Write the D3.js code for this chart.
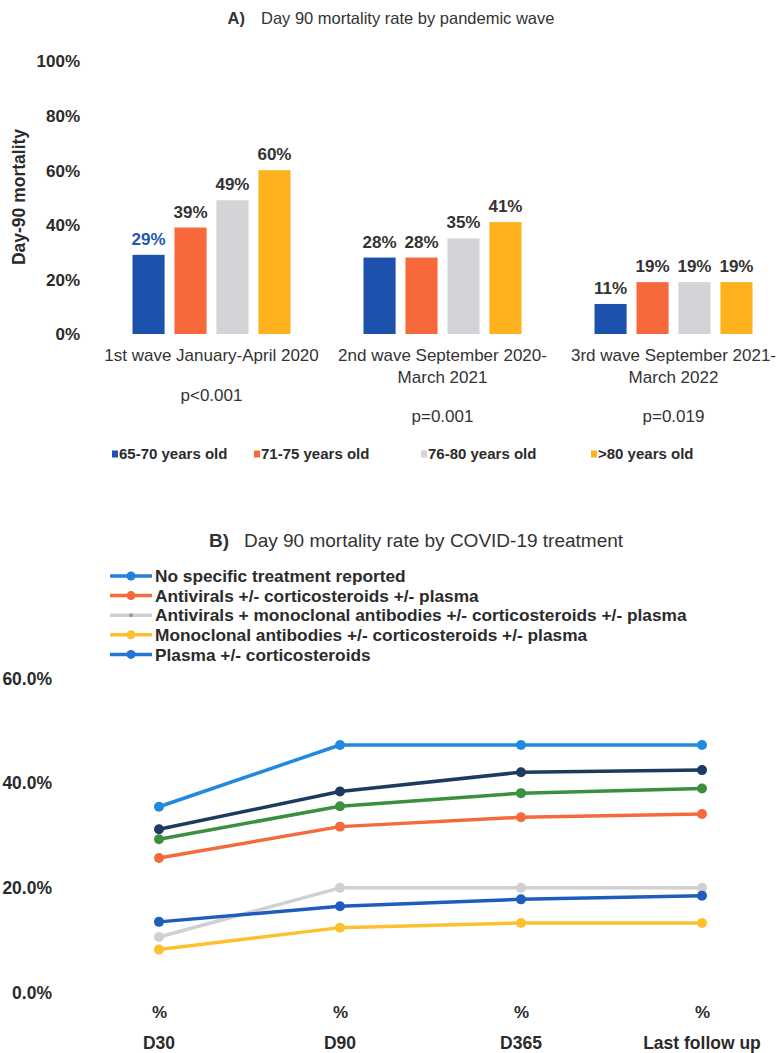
<!DOCTYPE html>
<html>
<head>
<meta charset="utf-8">
<script src="https://cdn.jsdelivr.net/npm/d3@7"></script>
<style>
  body { margin: 0; background: #fff; }
  svg { display: block; font-family: "Liberation Sans", Arial, sans-serif; }
  .tick text { fill: #2b2b2b; font-weight: bold; }
</style>
</head>
<body>
<div id="chart-area"></div>
<script>
// ---- data panel A ----
var waveLabels = [
	["1st wave January-April 2020"],
	["2nd wave September 2020-", "March 2021"],
	["3rd wave September 2021-", "March 2022"]
];
var pValues = ["p<0.001", "p=0.001", "p=0.019"];
var ageGroups = ["65-70 years old", "71-75 years old", "76-80 years old", ">80 years old"];
var age6570 = [29, 28, 11];
var age7175 = [39, 28, 19];
var age7680 = [49, 35, 19];
var age80 = [60, 41, 19];
var barTicks = [0, 20, 40, 60, 80, 100];

// ---- data panel B ----
var timepoints = ["D30", "D90", "D365", "Last follow up"];
var treatments = [
	"No specific treatment reported",
	"Antivirals +/- corticosteroids +/- plasma",
	"Antivirals + monoclonal antibodies +/- corticosteroids +/- plasma",
	"Monoclonal antibodies +/- corticosteroids +/- plasma",
	"Plasma +/- corticosteroids"
];
var noTreatment = [35.4, 47.2, 47.2, 47.2];
var antivirals = [25.6, 31.6, 33.4, 34.0];
var antiviralsMab = [10.5, 19.9, 19.9, 19.9];
var mabOnly = [8.1, 12.3, 13.2, 13.2];
var plasma = [13.4, 16.4, 17.7, 18.4];
// two extra lines drawn in the figure with no legend entry
var unlabelledNavy = [31.1, 38.3, 42.0, 42.4];
var unlabelledGreen = [29.2, 35.5, 38.0, 38.9];
var lineTicks = [0, 20, 40, 60];

var ageColors = ["#1d51ae", "#f7693a", "#d4d4d8", "#ffb21e"];

var svg = d3.select("#chart-area")
	.append("svg")
		.attr("width", 779)
		.attr("height", 1053);

/************ A) bar chart ************/
var ageData = [age6570, age7175, age7680, age80];
var bars = [];
waveLabels.forEach(function(w, i) {
	ageGroups.forEach(function(a, j) {
		bars.push({ wave: i, age: a, ai: j, value: ageData[j][i] });
	});
});

var x0 = d3.scaleBand()
	.domain(d3.range(waveLabels.length))
	.range([96, 789])
	.paddingInner(0.316)
	.paddingOuter(0.158);

var x1 = d3.scaleBand()
	.domain(ageGroups)
	.range([0, x0.bandwidth()])
	.paddingInner(0.235);

var yA = d3.scaleLinear()
	.domain([0, 100])
	.range([334, 61]);

var titleA = svg.append("text")
	.attr("x", 391)
	.attr("y", 24)
	.attr("text-anchor", "middle")
	.attr("font-size", "16.5px")
	.attr("fill", "#333");
titleA.append("tspan").attr("font-weight", "bold").text("A)");
titleA.append("tspan").attr("dx", 16).text("Day 90 mortality rate by pandemic wave");

var yAxisA = svg.append("g")
	.attr("transform", "translate(80,0)")
	.call(d3.axisLeft(yA).tickValues(barTicks).tickSize(0).tickPadding(0)
		.tickFormat(function(d) { return d + "%"; }));
yAxisA.select(".domain").remove();
yAxisA.selectAll("text").attr("font-size", "17px").attr("dy", "0.35em");

svg.append("text")
	.attr("transform", "translate(25,197) rotate(-90)")
	.attr("text-anchor", "middle")
	.attr("font-size", "17.5px")
	.attr("font-weight", "bold")
	.attr("fill", "#2b2b2b")
	.text("Day-90 mortality");

svg.selectAll("rect.bar")
	.data(bars)
	.enter()
	.append("rect")
		.attr("class", "bar")
		.attr("x", function(d) { return x0(d.wave) + x1(d.age); })
		.attr("y", function(d) { return yA(d.value); })
		.attr("width", x1.bandwidth())
		.attr("height", function(d) { return yA(0) - yA(d.value); })
		.attr("fill", function(d) { return ageColors[d.ai]; });

svg.selectAll("text.barlabel")
	.data(bars)
	.enter()
	.append("text")
		.attr("class", "barlabel")
		.attr("x", function(d) { return x0(d.wave) + x1(d.age) + x1.bandwidth() / 2; })
		.attr("y", function(d) { return yA(d.value) - 10; })
		.attr("text-anchor", "middle")
		.attr("font-size", "17px")
		.attr("font-weight", "bold")
		.attr("fill", function(d) { return (d.wave === 0 && d.ai === 0) ? "#2256b8" : "#333"; })
		.text(function(d) { return d.value + "%"; });

var waveG = svg.selectAll("g.wave")
	.data(waveLabels)
	.enter()
	.append("g")
		.attr("class", "wave")
		.attr("transform", function(d, i) { return "translate(" + (x0(i) + x0.bandwidth() / 2) + ",0)"; });

waveG.each(function(lines, i) {
	var g = d3.select(this);
	lines.forEach(function(l, k) {
		g.append("text")
			.attr("y", 361 + k * 22)
			.attr("text-anchor", "middle")
			.attr("font-size", "17px")
			.attr("fill", "#333")
			.text(l);
	});
	g.append("text")
		.attr("y", lines.length === 1 ? 401 : 422)
		.attr("text-anchor", "middle")
		.attr("font-size", "17px")
		.attr("fill", "#333")
		.text(pValues[i]);
});

// legend A
var legA = [112, 254, 421, 591];
var legendA = svg.selectAll("g.legA")
	.data(ageGroups)
	.enter()
	.append("g")
		.attr("class", "legA")
		.attr("transform", function(d, i) { return "translate(" + legA[i] + ",454)"; });
legendA.append("rect")
	.attr("x", 0).attr("y", -3.5)
	.attr("width", 6).attr("height", 7)
	.attr("fill", function(d, i) { return ageColors[i]; });
legendA.append("text")
	.attr("x", 7)
	.attr("dy", "0.36em")
	.attr("font-size", "15px")
	.attr("font-weight", "bold")
	.attr("fill", "#2b2b2b")
	.text(function(d) { return d; });

/************ B) line chart ************/
var series = [
	{ name: "unlabelledNavy", values: unlabelledNavy, color: "#1d3a5f" },
	{ name: "unlabelledGreen", values: unlabelledGreen, color: "#3b8f40" },
	{ name: treatments[1], values: antivirals, color: "#f46a3c" },
	{ name: treatments[2], values: antiviralsMab, color: "#d0d0d2" },
	{ name: treatments[3], values: mabOnly, color: "#ffc02e" },
	{ name: treatments[4], values: plasma, color: "#1f5cc0" },
	{ name: treatments[0], values: noTreatment, color: "#218ae0" }
];
var legendColors = ["#2380dc", "#f46a3c", "#d0d0d2", "#ffc02e", "#2176d4"];

var xB = d3.scalePoint()
	.domain(timepoints)
	.range([159, 702]);

var yB = d3.scaleLinear()
	.domain([0, 60])
	.range([992, 678]);

var titleB = svg.append("text")
	.attr("x", 416)
	.attr("y", 547)
	.attr("text-anchor", "middle")
	.attr("font-size", "19px")
	.attr("fill", "#333");
titleB.append("tspan").attr("font-weight", "bold").text("B)");
titleB.append("tspan").attr("dx", 15).text("Day 90 mortality rate by COVID-19 treatment");

var legendB = svg.selectAll("g.legB")
	.data(treatments)
	.enter()
	.append("g")
		.attr("class", "legB")
		.attr("transform", function(d, i) { return "translate(110," + (576 + i * 19.6) + ")"; });
legendB.append("line")
	.attr("x1", 0).attr("x2", 42)
	.attr("stroke", function(d, i) { return legendColors[i]; })
	.attr("stroke-width", 3.5);
legendB.append("circle")
	.attr("cx", 21)
	.attr("r", function(d, i) { return i === 2 ? 2 : 4.5; })
	.attr("fill", function(d, i) { return i === 2 ? "#999" : legendColors[i]; });
legendB.append("text")
	.attr("x", 45)
	.attr("dy", "0.36em")
	.attr("font-size", "17.3px")
	.attr("font-weight", "bold")
	.attr("fill", "#2b2b2b")
	.text(function(d) { return d; });

var yAxisB = svg.append("g")
	.attr("transform", "translate(52,0)")
	.call(d3.axisLeft(yB).tickValues(lineTicks).tickSize(0).tickPadding(0)
		.tickFormat(function(d) { return d.toFixed(1) + "%"; }));
yAxisB.select(".domain").remove();
yAxisB.selectAll("text").attr("font-size", "17.5px").attr("dy", "0.35em");

var xAxisB = svg.append("g")
	.attr("transform", "translate(0,1012)")
	.call(d3.axisBottom(xB).tickSize(0).tickPadding(0).tickFormat(function() { return "%"; }));
xAxisB.select(".domain").remove();
xAxisB.selectAll("text").attr("font-size", "17px").attr("dy", "0.35em");

svg.selectAll("text.xcat")
	.data(timepoints)
	.enter()
	.append("text")
		.attr("class", "xcat")
		.attr("x", function(d) { return xB(d); })
		.attr("y", 1043)
		.attr("dy", "0.35em")
		.attr("text-anchor", "middle")
		.attr("font-size", "17.5px")
		.attr("font-weight", "bold")
		.attr("fill", "#2b2b2b")
		.text(function(d) { return d; });

var line = d3.line()
	.x(function(d, i) { return xB(timepoints[i]); })
	.y(function(d) { return yB(d); });

series.forEach(function(s) {
	svg.append("path")
		.attr("fill", "none")
		.attr("stroke", s.color)
		.attr("stroke-width", 3.5)
		.attr("stroke-linejoin", "round")
		.attr("d", line(s.values));
	svg.selectAll(null)
		.data(s.values)
		.enter()
		.append("circle")
			.attr("cx", function(d, i) { return xB(timepoints[i]); })
			.attr("cy", function(d) { return yB(d); })
			.attr("r", 5)
			.attr("fill", s.color);
});
</script>
</body>
</html>
